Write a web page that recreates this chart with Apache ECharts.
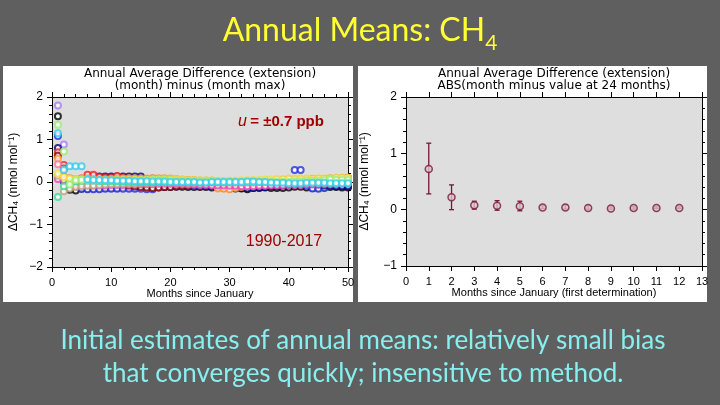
<!DOCTYPE html>
<html>
<head>
<meta charset="utf-8">
<script src="https://cdn.jsdelivr.net/npm/echarts@6/dist/echarts.min.js"></script>
<style>
  html, body { margin: 0; padding: 0; background: #5f5f5f; }
  #chart { width: 720px; height: 405px; }
</style>
</head>
<body>
<div id="chart"></div>
<script>
// left panel: month-by-month difference per year (1990-2017), months 1..50
const leftMonths = Array.from({ length: 50 }, (_, i) => i + 1);

const purple = [
  1.8, 0.88, 0.03, -0.06, -0.08, -0.1, -0.1, -0.11, -0.11, -0.12,
  -0.12, -0.11, -0.11, -0.1, -0.1, -0.1, -0.09, -0.09, -0.09, -0.1,
  -0.1, -0.1, -0.09, -0.08, -0.08, -0.07, -0.07, -0.06, -0.06, -0.06,
  -0.05, -0.05, -0.05, -0.05, -0.04, -0.04, -0.05, -0.05, -0.05, -0.06,
  -0.06, -0.06, -0.05, -0.05, -0.05, -0.04, -0.04, -0.04, -0.04, -0.05
];
const black = [
  1.55, 0.02, -0.18, -0.2, -0.16, -0.16, -0.15, -0.15, -0.14, -0.14,
  -0.14, -0.13, -0.13, -0.13, -0.12, -0.12, -0.13, -0.12, -0.12, -0.12,
  -0.11, -0.11, -0.12, -0.12, -0.12, -0.12, -0.13, -0.13, -0.14, -0.14,
  -0.15, -0.15, -0.17, -0.14, -0.14, -0.13, -0.14, -0.14, -0.14, -0.13,
  -0.11, -0.11, -0.13, -0.14, -0.14, -0.13, -0.12, -0.12, -0.13, -0.13
];
const blue = [
  1.08, 0.02, -0.06, -0.1, -0.16, -0.17, -0.17, -0.17, -0.16, -0.16,
  -0.16, -0.16, -0.16, -0.16, -0.16, -0.17, -0.17, -0.13, -0.12, -0.11,
  -0.1, -0.1, -0.09, -0.09, -0.09, -0.09, -0.09, -0.1, -0.1, -0.1,
  -0.1, -0.1, -0.11, -0.1, -0.1, -0.1, -0.09, -0.08, -0.06, -0.05,
  0.28, 0.28, -0.08, -0.15, -0.16, -0.14, -0.1, -0.1, -0.08, -0.08
];
const navy = [
  0.8, 0.12, 0.07, 0.05, 0.06, 0.1, 0.13, 0.13, 0.13, 0.13,
  0.13, 0.13, 0.13, 0.13, 0.13, 0.06, 0.05, 0.04, 0.03, 0.02,
  0.01, 0.0, -0.02, -0.04, -0.06, -0.08, -0.1, -0.1, -0.11, -0.12,
  -0.13, -0.14, -0.15, -0.14, -0.13, -0.12, -0.1, -0.1, -0.08, -0.06,
  -0.04, -0.03, -0.03, -0.04, -0.06, -0.08, -0.09, -0.1, -0.1, -0.1
];
const red = [
  0.7, 0.4, 0.08, 0.06, 0.08, 0.17, 0.17, 0.12, 0.1, 0.1,
  0.14, 0.1, 0.08, 0.07, 0.07, 0.06, 0.08, 0.07, 0.06, 0.05,
  0.05, 0.04, 0.04, 0.04, 0.03, 0.03, 0.03, -0.12, -0.14, -0.16,
  -0.12, -0.1, -0.08, -0.06, -0.03, -0.02, 0.0, 0.02, 0.04, 0.05,
  0.05, 0.06, 0.06, 0.07, 0.07, 0.07, 0.08, 0.08, 0.09, 0.1
];
const darkRed = [
  0.62, 0.32, -0.02, -0.08, -0.06, -0.06, -0.05, -0.05, -0.04, -0.04,
  -0.04, 0.0, -0.08, -0.1, -0.12, -0.13, -0.14, -0.13, -0.12, -0.12,
  -0.1, -0.09, -0.08, -0.06, -0.05, -0.04, -0.04, -0.03, -0.03, -0.02,
  -0.02, -0.03, -0.03, -0.02, -0.01, 0.0, 0.02, 0.04, 0.05, 0.06,
  0.06, 0.05, 0.05, 0.06, 0.06, 0.07, 0.07, 0.08, 0.08, 0.09
];
const orange = [
  0.55, 0.1, 0.06, 0.07, 0.08, 0.08, 0.07, 0.06, 0.06, 0.07,
  0.08, 0.08, 0.09, 0.09, 0.08, 0.08, 0.09, 0.09, 0.09, 0.08,
  0.07, 0.06, 0.05, 0.04, 0.03, 0.02, 0.01, -0.15, -0.16, -0.17,
  -0.14, -0.12, -0.1, -0.08, -0.06, -0.04, -0.03, -0.02, -0.01, 0.0,
  0.02, 0.03, 0.04, 0.05, 0.05, 0.06, 0.07, 0.08, 0.08, 0.09
];
const pink = [
  0.42, 0.3, -0.04, -0.02, 0.0, 0.01, 0.02, 0.02, 0.02, 0.02,
  0.02, 0.01, 0.0, 0.0, -0.01, -0.01, -0.02, -0.02, -0.03, -0.03,
  -0.04, -0.04, -0.05, -0.05, -0.06, -0.06, -0.05, -0.05, -0.04, -0.04,
  -0.03, -0.03, -0.02, -0.02, -0.01, -0.01, 0.0, 0.0, 0.01, 0.01,
  0.02, 0.02, 0.02, 0.03, 0.03, 0.03, 0.04, 0.04, 0.04, 0.04
];
const magenta = [
  0.07, 0.05, -0.02, -0.04, -0.06, -0.07, -0.08, -0.08, -0.08, -0.07,
  -0.07, -0.07, -0.06, -0.06, -0.05, -0.05, -0.05, -0.04, -0.04, -0.04,
  -0.05, -0.05, -0.06, -0.06, -0.07, -0.07, -0.08, -0.08, -0.08, -0.09,
  -0.09, -0.1, -0.1, -0.1, -0.09, -0.09, -0.08, -0.08, -0.08, -0.07,
  -0.07, -0.07, -0.06, -0.06, -0.06, -0.05, -0.05, -0.05, -0.04, -0.04
];
const tan = [
  0.15, -0.22, -0.15, -0.12, -0.1, -0.09, -0.08, -0.07, -0.06, -0.05,
  -0.05, -0.04, -0.04, -0.04, -0.03, -0.03, -0.03, -0.02, -0.02, -0.02,
  -0.02, -0.02, -0.02, -0.02, -0.02, -0.01, -0.01, -0.01, -0.01, -0.01,
  -0.01, -0.01, -0.01, -0.01, 0.0, 0.0, 0.0, 0.0, 0.0, 0.0,
  0.0, 0.0, 0.0, 0.0, 0.01, 0.01, 0.01, 0.01, 0.01, 0.01
];
const teal = [
  -0.35, -0.1, 0.0, 0.02, 0.03, 0.03, 0.03, 0.02, 0.02, 0.01,
  0.01, 0.01, 0.0, 0.0, 0.0, 0.0, 0.0, 0.01, 0.01, 0.01,
  0.01, 0.0, 0.0, 0.0, 0.0, 0.0, 0.0, 0.0, 0.01, 0.01,
  0.01, 0.02, 0.02, 0.02, 0.02, 0.03, 0.03, 0.03, 0.03, 0.03,
  0.0, 0.0, -0.01, -0.01, -0.02, -0.02, -0.02, -0.02, -0.02, -0.02
];
const yellow = [
  0.2, 0.12, 0.08, 0.07, 0.06, 0.06, 0.05, 0.05, 0.05, 0.04,
  0.04, 0.04, 0.04, 0.05, 0.05, 0.05, 0.06, 0.06, 0.06, 0.06,
  0.06, 0.06, 0.05, 0.05, 0.04, 0.04, 0.04, 0.03, 0.03, 0.03,
  0.03, 0.04, 0.04, 0.05, 0.05, 0.06, 0.06, 0.07, 0.07, 0.08,
  0.08, 0.08, 0.08, 0.08, 0.09, 0.09, 0.09, 0.1, 0.1, 0.1
];
const lightGreen = [
  1.35, 0.72, -0.06, 0.04, 0.05, 0.05, 0.04, 0.04, 0.05, 0.05,
  0.05, 0.05, 0.04, 0.04, 0.04, 0.05, 0.05, 0.05, 0.04, 0.04,
  0.03, 0.03, 0.03, 0.02, 0.02, 0.02, 0.02, 0.02, 0.02, 0.01,
  0.01, 0.01, 0.01, 0.01, 0.01, 0.01, 0.0, 0.0, 0.0, 0.0,
  0.02, 0.02, 0.03, 0.03, 0.03, 0.04, 0.06, 0.05, 0.05, 0.05
];
const cyan = [
  1.15, 0.28, 0.37, 0.37, 0.37, 0.06, 0.05, 0.05, 0.04, 0.04,
  0.03, 0.03, 0.03, 0.02, 0.02, 0.02, 0.01, 0.01, 0.01, 0.0,
  0.0, 0.0, 0.0, 0.0, -0.01, -0.01, 0.0, 0.0, 0.0, 0.0,
  0.0, 0.0, 0.01, 0.01, 0.0, 0.0, -0.01, -0.02, -0.02, -0.03,
  -0.03, -0.03, -0.02, -0.02, -0.02, -0.02, -0.03, -0.03, -0.03, -0.03
];

const leftSeries = [
  { data: purple, color: '#a77cf0' },
  { data: black, color: '#000000' },
  { data: blue, color: '#2233dd' },
  { data: navy, color: '#000080' },
  { data: red, color: '#ee2222' },
  { data: darkRed, color: '#8b0000' },
  { data: orange, color: '#ff9933' },
  { data: pink, color: '#ff7799' },
  { data: magenta, color: '#dd44bb' },
  { data: tan, color: '#c0a080' },
  { data: teal, color: '#33dd99' },
  { data: yellow, color: '#eedd44' },
  { data: lightGreen, color: '#99ee77' },
  { data: cyan, color: '#33ccee' }
];

// right panel: ABS(month minus value at 24 months), mean and spread
const rightMonths = [1, 2, 3, 4, 5, 6, 7, 8, 9, 10, 11, 12];
const rightMean = [0.72, 0.22, 0.08, 0.07, 0.06, 0.04, 0.04, 0.03, 0.02, 0.03, 0.03, 0.03];
const rightLow = [0.28, 0.0, 0.01, -0.01, -0.02, 0.02, 0.01, 0.01, 0.01, 0.01, 0.02, 0.02];
const rightHigh = [1.18, 0.44, 0.15, 0.16, 0.15, 0.07, 0.08, 0.07, 0.05, 0.05, 0.05, 0.05];

const axisFont = 'Liberation Sans, Arial, sans-serif';
const minus = (v) => String(v).replace('-', '\u2212');

function xAxes(gridIndex, max, interval, minor) {
  const base = {
    type: 'value', gridIndex, min: 0, max, interval,
    axisLine: { show: true, onZero: false, lineStyle: { color: '#000', width: 1 } },
    axisTick: { show: true, length: 5, lineStyle: { color: '#000' } },
    minorTick: { show: minor, splitNumber: 5, length: 3, lineStyle: { color: '#000' } },
    splitLine: { show: false }
  };
  return [
    Object.assign({}, base, {
      position: 'bottom',
      name: gridIndex === 0 ? 'Months since January' : 'Months since January (first determination)',
      nameLocation: 'middle', nameGap: 21,
      nameTextStyle: { color: '#000', fontSize: 11, fontFamily: axisFont },
      axisLabel: { color: '#000', fontSize: 11, margin: 10, fontFamily: axisFont }
    }),
    Object.assign({}, base, { position: 'top', axisLabel: { show: false } })
  ];
}

function yAxes(gridIndex, min, max, nameGap) {
  const base = {
    type: 'value', gridIndex, min, max, interval: 1,
    axisLine: { show: true, onZero: false, lineStyle: { color: '#000', width: 1 } },
    axisTick: { show: true, length: 5, lineStyle: { color: '#000' } },
    minorTick: { show: true, splitNumber: 5, length: 3, lineStyle: { color: '#000' } },
    splitLine: { show: false }
  };
  return [
    Object.assign({}, base, {
      position: 'left',
      name: '\u0394CH\u2084 (nmol mol\u207B\u00B9)',
      nameLocation: 'middle', nameGap, nameRotate: 90,
      nameTextStyle: { color: '#000', fontSize: 12, fontFamily: axisFont },
      axisLabel: { color: '#000', fontSize: 12, margin: 9, fontFamily: axisFont, formatter: minus }
    }),
    Object.assign({}, base, { position: 'right', axisLabel: { show: false } })
  ];
}

const chart = echarts.init(document.getElementById('chart'));

const series = leftSeries.map((s) => ({
  type: 'scatter',
  xAxisIndex: 0,
  yAxisIndex: 0,
  data: leftMonths.map((m, i) => [m, s.data[i]]),
  symbol: 'emptyCircle',
  symbolSize: 6,
  itemStyle: { color: s.color, borderColor: s.color, borderWidth: 1.2 },
  silent: true
}));

series.push({
  type: 'custom',
  xAxisIndex: 2,
  yAxisIndex: 2,
  data: rightMonths.map((m, i) => [m, rightLow[i], rightHigh[i]]),
  renderItem: (params, api) => {
    const lo = api.coord([api.value(0), api.value(1)]);
    const hi = api.coord([api.value(0), api.value(2)]);
    const w = 2.5;
    const style = { stroke: '#7a1536', lineWidth: 1.3 };
    return {
      type: 'group',
      children: [
        { type: 'line', shape: { x1: lo[0], y1: lo[1], x2: hi[0], y2: hi[1] }, style },
        { type: 'line', shape: { x1: lo[0] - w, y1: lo[1], x2: lo[0] + w, y2: lo[1] }, style },
        { type: 'line', shape: { x1: hi[0] - w, y1: hi[1], x2: hi[0] + w, y2: hi[1] }, style }
      ]
    };
  },
  silent: true
});

series.push({
  type: 'scatter',
  xAxisIndex: 2,
  yAxisIndex: 2,
  data: rightMonths.map((m, i) => [m, rightMean[i]]),
  symbol: 'circle',
  symbolSize: 7,
  itemStyle: { color: '#d9c6cc', borderColor: '#7a1536', borderWidth: 1.5 },
  silent: true,
  z: 3
});

const option = {
  backgroundColor: '#5f5f5f',
  animation: false,
  grid: [
    { left: 52, top: 97, width: 296, height: 170, show: true, backgroundColor: '#dedede', borderWidth: 0 },
    { left: 406, top: 97, width: 296, height: 169, show: true, backgroundColor: '#dedede', borderWidth: 0 }
  ],
  xAxis: [...xAxes(0, 50, 10, true), ...xAxes(1, 13, 1, false)],
  yAxis: [...yAxes(0, -2, 2, 32), ...yAxes(1, -1, 2, 35)],
  graphic: [
    { type: 'rect', z: -10, shape: { x: 3, y: 66, width: 350, height: 236 }, style: { fill: '#ffffff' } },
    { type: 'rect', z: -10, shape: { x: 358, y: 66, width: 349, height: 236 }, style: { fill: '#ffffff' } },
    {
      type: 'text', x: 360, y: 31, z: 10,
      style: {
        text: '{t|Annual Means: CH}{s|4}', align: 'center', verticalAlign: 'middle',
        rich: {
          t: { fontFamily: 'Lato, sans-serif', fontSize: 32, fill: '#ffff33', lineHeight: 46 },
          s: { fontFamily: 'Lato, sans-serif', fontSize: 21, fill: '#ffff33', lineHeight: 21, verticalAlign: 'bottom' }
        }
      }
    },
    {
      type: 'text', x: 200, y: 80, z: 10,
      style: {
        text: 'Annual Average Difference (extension)\n(month) minus (month max)',
        align: 'center', verticalAlign: 'middle', fill: '#000',
        font: '12px DejaVu Sans, sans-serif', lineHeight: 12
      }
    },
    {
      type: 'text', x: 554, y: 80, z: 10,
      style: {
        text: 'Annual Average Difference (extension)\nABS(month minus value at 24 months)',
        align: 'center', verticalAlign: 'middle', fill: '#000',
        font: '12px DejaVu Sans, sans-serif', lineHeight: 12
      }
    },
    {
      type: 'text', x: 281, y: 122, z: 10,
      style: {
        text: '{i|u} {b|= \u00B10.7 ppb}', align: 'center', verticalAlign: 'middle',
        rich: {
          i: { fontFamily: 'Liberation Sans, sans-serif', fontStyle: 'italic', fontSize: 16, fill: '#a00000' },
          b: { fontFamily: 'Liberation Sans, sans-serif', fontWeight: 'bold', fontSize: 15, fill: '#a00000' }
        }
      }
    },
    {
      type: 'text', x: 284, y: 242, z: 10,
      style: {
        text: '1990-2017', align: 'center', verticalAlign: 'middle',
        fill: '#a00000', font: '16px Liberation Sans, sans-serif'
      }
    },
    {
      type: 'text', x: 363, y: 357, z: 10,
      style: {
        text: 'Initial estimates of annual means: relatively small bias\nthat converges quickly; insensitive to method.',
        align: 'center', verticalAlign: 'middle', fill: '#88eeee',
        font: '26px Lato, sans-serif', lineHeight: 33
      }
    }
  ],
  series
};

chart.setOption(option);
</script>
</body>
</html>
